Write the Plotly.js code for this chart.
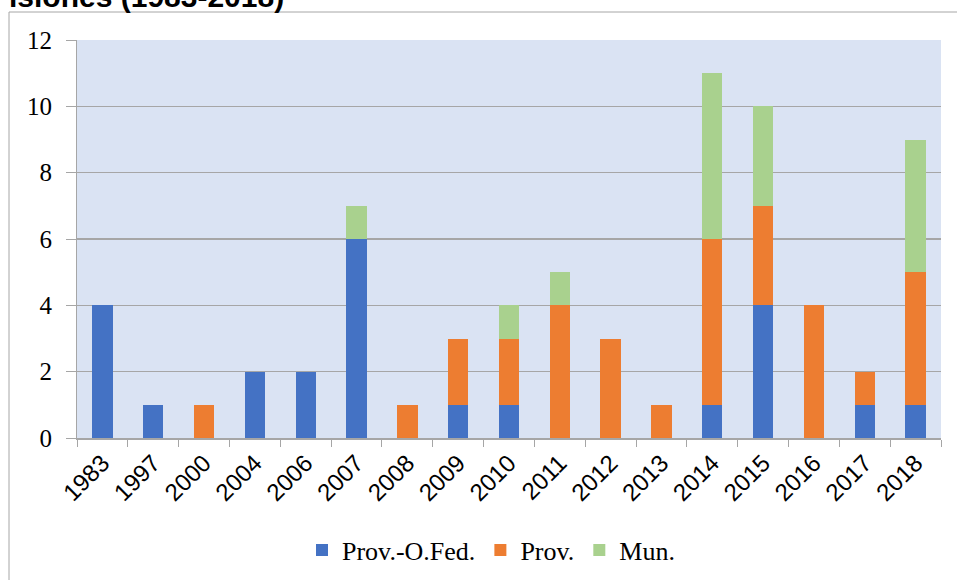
<!DOCTYPE html>
<html>
<head>
<meta charset="utf-8">
<script src="https://cdn.plot.ly/plotly-3.0.1.min.js"></script>
<style>html,body{margin:0;padding:0;background:#fff;}#chart{width:957px;height:580px;}</style>
</head>
<body>
<div id="chart"></div>
<script>
const years = ["1983","1997","2000","2004","2006","2007","2008","2009","2010","2011","2012","2013","2014","2015","2016","2017","2018"];
const provOFed = [4,1,0,2,2,6,0,1,1,0,0,0,1,4,0,1,1];
const prov     = [0,0,1,0,0,0,1,2,2,4,3,1,5,3,4,1,4];
const mun      = [0,0,0,0,0,1,0,0,1,1,0,0,5,3,0,0,4];
const seriesNames = ["Prov.-O.Fed.","Prov.","Mun."];
const seriesColors = ["#4472c4","#ed7d31","#a9d18e"];
const yTicks = [0,2,4,6,8,10,12];
const titleText = "isiones (1983-2018)";

const W = 957, H = 580, L = 77, R = 16, T = 40, B = 142;
const pw = W - L - R, ph = H - T - B;
const px = x => (x - L) / pw;
const py = y => (H - B - y) / ph;

const serif = "'Liberation Serif','Times New Roman',serif";
const sans = "'Liberation Sans',Arial,sans-serif";

const data = [provOFed, prov, mun].map((vals, i) => ({
  type: "bar",
  x: years,
  y: vals,
  name: seriesNames[i],
  marker: {color: seriesColors[i], line: {width: 0}},
  hoverinfo: "x+y+name"
}));

const layout = {
  width: W, height: H,
  margin: {l: L, r: R, t: T, b: B, autoexpand: false},
  paper_bgcolor: "#ffffff",
  plot_bgcolor: "#dae3f3",
  barmode: "stack",
  bargap: 0.6,
  showlegend: true,
  legend: {
    orientation: "h",
    xref: "container", yref: "container",
    x: 491 / W, xanchor: "center",
    y: (H - 550) / H, yanchor: "middle",
    font: {family: serif, size: 26, color: "#000"},
    traceorder: "normal",
    itemwidth: 30
  },
  xaxis: {
    type: "category",
    tickangle: -45,
    tickson: "boundaries",
    ticks: "outside",
    ticklen: 7,
    tickcolor: "#a6a6a6",
    showline: true,
    linecolor: "#a6a6a6",
    linewidth: 1.5,
    showgrid: false,
    automargin: false,
    tickfont: {family: sans, size: 24, color: "#000"},
    fixedrange: true
  },
  yaxis: {
    range: [0, 12],
    tickvals: yTicks,
    ticktext: yTicks.map(String),
    ticks: "outside",
    ticklen: 10,
    tickcolor: "#a6a6a6",
    showline: true,
    linecolor: "#a6a6a6",
    linewidth: 1,
    showgrid: true,
    gridcolor: "#a6a6a6",
    gridwidth: 1.5,
    zeroline: false,
    automargin: false,
    tickfont: {family: serif, size: 25, color: "#000"},
    ticklabelstandoff: 9,
    fixedrange: true
  },
  shapes: [{
    type: "rect", xref: "paper", yref: "paper",
    x0: px(9), x1: px(965), y0: py(590), y1: py(12),
    line: {color: "#a6a6a6", width: 1}, fillcolor: "rgba(0,0,0,0)", layer: "below"
  }],
  annotations: [{
    text: "<b>" + titleText + "</b>",
    xref: "paper", yref: "paper",
    x: px(286), xanchor: "right",
    y: py(15), yanchor: "bottom",
    showarrow: false,
    font: {family: sans, size: 30, color: "#000"}
  }]
};

Plotly.newPlot("chart", data, layout, {displayModeBar: false, staticPlot: true});
</script>
</body>
</html>
